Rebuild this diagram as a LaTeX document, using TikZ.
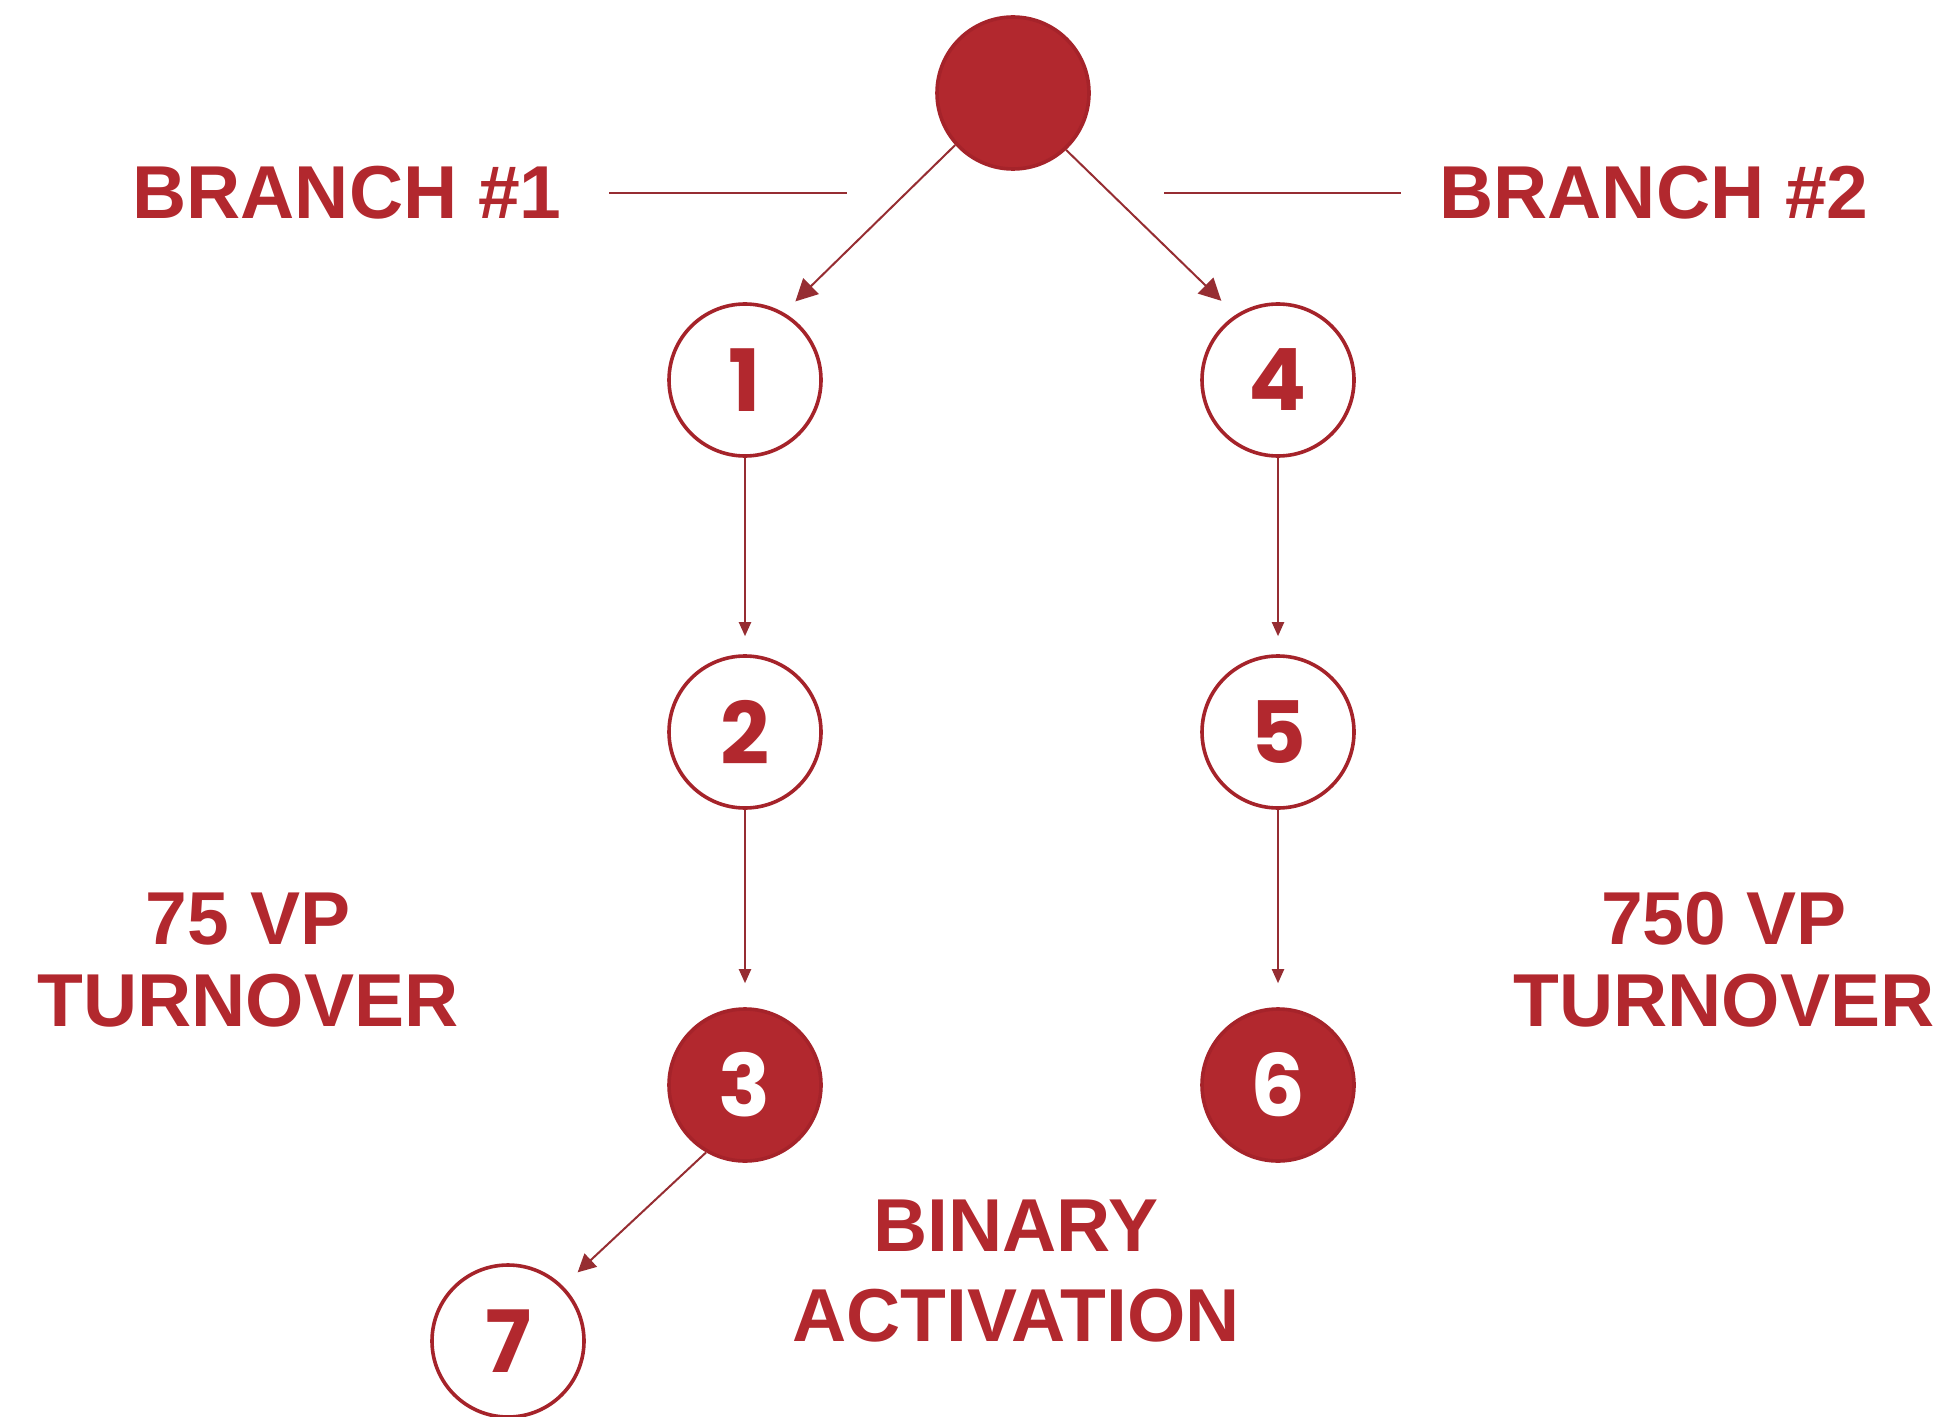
\documentclass[tikz,border=0pt]{standalone}
\usepackage{fontspec}
\setmainfont{Liberation Sans}
\newfontfamily\digitfont{Poppins}
\usetikzlibrary{arrows.meta}
\definecolor{brandred}{RGB}{178,40,46}
\definecolor{ringred}{RGB}{165,35,42}
\definecolor{linered}{RGB}{150,45,50}
\tikzset{
  x=0.5pt, y=-0.5pt,
  ring/.style={circle, draw=ringred, line width=1.8pt, fill=white, minimum size=76pt, inner sep=0pt,
    text=brandred, font=\digitfont\bfseries\fontsize{43}{43}\selectfont},
  dot/.style={circle, draw=ringred, line width=1.8pt, fill=brandred, minimum size=76pt, inner sep=0pt,
    text=white, font=\digitfont\bfseries\fontsize{43}{43}\selectfont},
  label/.style={text=brandred, font=\bfseries\fontsize{37.5}{41}\selectfont, align=center, inner sep=0pt},
  conn/.style={draw=linered, line width=1pt},
  bigarrow/.style={conn, -{Triangle[length=11pt,width=11pt]}},
  smallarrow/.style={conn, -{Triangle[length=7pt,width=6pt]}},
  midarrow/.style={conn, -{Triangle[length=9pt,width=9pt]}},
}
\begin{document}
\begin{tikzpicture}
\useasboundingbox (0,0) rectangle (1942,1417);
\node[dot] (top) at (1013,93) {};
\node[ring] (n1) at (745,380) {1};
\node[ring] (n4) at (1278,380) {4};
\node[ring] (n2) at (745,732) {2};
\node[ring] (n5) at (1278,732) {5};
\node[dot] (n3) at (745,1085) {3};
\node[dot] (n6) at (1278,1085) {6};
\node[ring] (n7) at (508,1341) {7};

\draw[bigarrow, shorten >=8pt] (top.222) -- (n1.60);
\draw[bigarrow, shorten >=10pt] (top.-47) -- (n4.123);
\draw[smallarrow, shorten >=9pt] (n1) -- (n2);
\draw[smallarrow, shorten >=9pt] (n4) -- (n5);
\draw[smallarrow, shorten >=12pt] (n2) -- (n3);
\draw[smallarrow, shorten >=12pt] (n5) -- (n6);
\draw[midarrow, shorten >=10pt] (n3.240) -- (n7.45);

\coordinate (l1a) at (609,193);
\coordinate (l1b) at (847,193);
\coordinate (l2a) at (1164,193);
\coordinate (l2b) at (1401,193);
\draw[conn] (l1a) -- (l1b);
\draw[conn] (l2a) -- (l2b);

\node[label, anchor=base west] (b1) at (132,219) {BRANCH \#1};
\node[label, anchor=base west] (b2) at (1439,219) {BRANCH \#2};
\node[label] (t1) at (248,960) {75 VP\\TURNOVER};
\node[label] (t2) at (1724,960) {750 VP\\TURNOVER};
\node[label, font=\bfseries\fontsize{37.5}{45}\selectfont] (ba) at (1016,1271) {BINARY\\ACTIVATION};
\end{tikzpicture}
\end{document}
